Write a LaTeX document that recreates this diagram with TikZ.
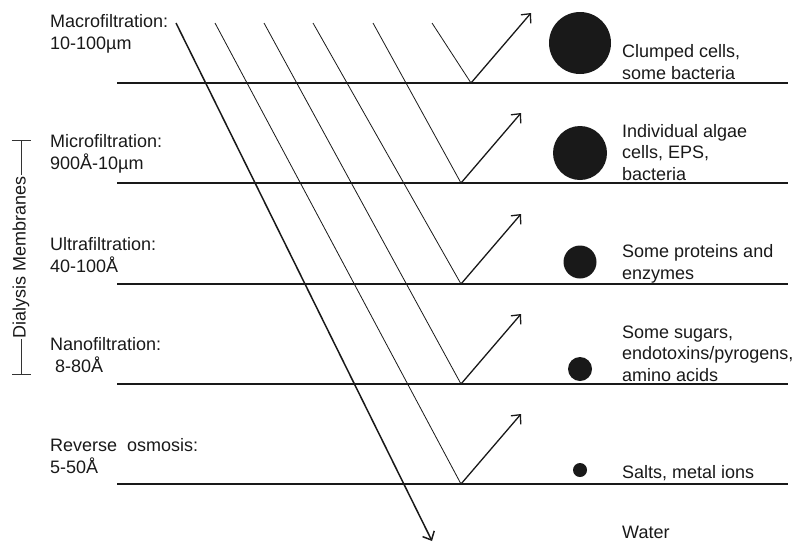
\documentclass[tikz,border=0pt]{standalone}
\usepackage{fontspec}
\setmainfont{Liberation Sans}
\usetikzlibrary{arrows.meta,positioning}
\tikzset{
  >={Straight Barb[length=7pt,width=13pt]},
  membrane/.style={draw=black!90, line width=1.3pt},
  feed/.style={draw=black!90, line width=0.8pt},
  water/.style={draw=black!90, line width=1.5pt, ->},
  reject/.style={draw=black!90, line width=1.3pt, ->},
  bracket/.style={draw=black!80, line width=0.9pt},
  particle/.style={circle, fill=black!90, inner sep=0pt},
  label/.style={anchor=base west, inner sep=0pt, align=left, text=black!90,
                font=\fontsize{18}{21.5}\selectfont}
}

\begin{document}
\begin{tikzpicture}[x=1pt,y=-1pt]
\useasboundingbox (0,0) rectangle (794,544);
% membranes
\foreach \y [count=\i] in {83,183,284,384,484}
  \draw[membrane] (117,\y) coordinate (mw\i) -- (788,\y) coordinate (me\i);
% feed streams bouncing off each membrane
\foreach \xt/\xv/\y/\i in {432/471/83/1, 373/461/183/2, 313/461/284/3, 264/461/384/4, 215/461/484/5} {
  \coordinate (top\i) at (\xt,23);
  \coordinate (v\i) at (\xv,\y);
  \path (v\i) ++(60,-70) coordinate (tip\i);
  \draw[feed] (top\i) -- (v\i);
  \draw[reject] (v\i) -- (tip\i);
}
% water goes through everything
\coordinate (wtop) at (176,23);
\coordinate (wend) at (432,541);
\draw[water] (wtop) -- (wend);

% retained particles
\node[particle, minimum size=62] (clumped) at (580,43) {};
\node[particle, minimum size=54] (algae) at (580,153) {};
\node[particle, minimum size=33] (proteins) at (580,262) {};
\node[particle, minimum size=24] (sugars) at (580,369) {};
\node[particle, minimum size=14] (salts) at (580,470) {};

% process labels (base = last line)
\node[label] (macro) at (50,49) {Macrofiltration:\\10-100µm};
\node[label] (micro) at (50,169) {Microfiltration:\\900Å-10µm};
\node[label] (ultra) at (50,272) {Ultrafiltration:\\40-100Å};
\node[label] (nano) at (50,372) {Nanofiltration:\\\hspace*{5pt}8-80Å};
\node[label] (ro) at (50,473) {Reverse~ osmosis:\\5-50Å};

% what is held back
\node[label] (clumpedtxt) at (622,79) {Clumped cells,\\some bacteria};
\node[label] (algaetxt) at (622,180) {Individual algae\\cells, EPS,\\bacteria};
\node[label] (proteinstxt) at (622,279) {Some proteins and\\enzymes};
\node[label] (sugarstxt) at (622,381) {Some sugars,\\endotoxins/pyrogens,\\amino acids};
\node[label] (saltstxt) at (622,478) {Salts, metal ions};
\node[label] (watertxt) at (622,538) {Water};

% dialysis bracket
\coordinate (dtop) at (21,140);
\coordinate (dbot) at (21,375);
\node[label, anchor=center, rotate=90, inner sep=1pt] (dialysis) at (21,257) {Dialysis Membranes};
\draw[bracket, {Bar[width=19pt]}-] (dtop) -- (dialysis.east);
\draw[bracket, -{Bar[width=19pt]}] (dialysis.west) -- (dbot);
\end{tikzpicture}
\end{document}
